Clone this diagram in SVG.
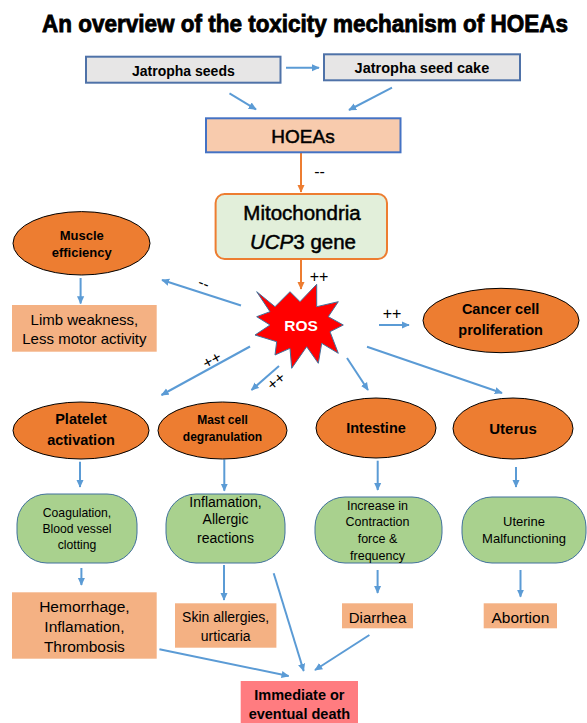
<svg xmlns="http://www.w3.org/2000/svg" width="587" height="723" viewBox="0 0 587 723">
<defs>
<style>
.t{font-family:"Liberation Sans",Arial,sans-serif;fill:#000;text-anchor:middle}
.b{font-weight:bold}
.gray{fill:#e7e6e6;stroke:#4f72a8;stroke-width:2}
.ell{fill:#ed7d31;stroke:#000;stroke-width:1}
.grn{fill:#a9d18e;stroke:#41719c;stroke-width:1}
.org{fill:#f4b183}
.con{stroke:#5b9bd5;stroke-width:2;fill:none;marker-end:url(#ab)}
.oc{stroke:#ed7d31;stroke-width:2;fill:none;marker-end:url(#ao)}
.lbl{font-family:"Liberation Sans",Arial,sans-serif;font-size:16px;fill:#000;text-anchor:middle}
</style>
<marker id="ab" viewBox="0 0 10 10" refX="9" refY="5" markerWidth="8" markerHeight="8" markerUnits="userSpaceOnUse" orient="auto"><path d="M0,0.5 L10,5 L0,9.5 z" fill="#5b9bd5"/></marker>
<marker id="ao" viewBox="0 0 10 10" refX="9" refY="5" markerWidth="8" markerHeight="8" markerUnits="userSpaceOnUse" orient="auto"><path d="M0,0.5 L10,5 L0,9.5 z" fill="#ed7d31"/></marker>
</defs>
<rect width="587" height="723" fill="#fff"/>
<text class="t b" x="305" y="31.5" font-size="23" stroke="#000" stroke-width="0.8" textLength="526" lengthAdjust="spacingAndGlyphs">An overview of the toxicity mechanism of HOEAs</text>

<g id="connectors">
<line class="con" x1="286" y1="67.7" x2="319" y2="67.7"/>
<line class="con" x1="229.5" y1="93.3" x2="256" y2="109.3"/>
<line class="con" x1="392" y1="87.7" x2="349" y2="110"/>
<line class="oc" x1="301" y1="153" x2="301" y2="192"/>
<line class="oc" x1="301" y1="260" x2="301" y2="289"/>
<line class="con" x1="241" y1="305.5" x2="162" y2="280"/>
<line class="con" x1="80.6" y1="278" x2="80.6" y2="303.5"/>
<line class="con" x1="379" y1="325" x2="409" y2="325"/>
<line class="con" x1="250" y1="346.5" x2="161.5" y2="395"/>
<line class="con" x1="279" y1="366" x2="251.5" y2="390"/>
<line class="con" x1="347" y1="358" x2="368" y2="390"/>
<line class="con" x1="367" y1="346.7" x2="502" y2="393"/>
<line class="con" x1="80" y1="461.7" x2="80" y2="487"/>
<line class="con" x1="224.3" y1="459.5" x2="224.3" y2="490.7"/>
<line class="con" x1="377.7" y1="460.7" x2="377.7" y2="490"/>
<line class="con" x1="516" y1="467" x2="516" y2="487"/>
<line class="con" x1="81.4" y1="568" x2="81.4" y2="585"/>
<line class="con" x1="224" y1="565" x2="224" y2="600"/>
<line class="con" x1="377.6" y1="570" x2="377.6" y2="593"/>
<line class="con" x1="520.5" y1="570" x2="520.5" y2="596.7"/>
<line class="con" x1="159.4" y1="649.3" x2="288.7" y2="676"/>
<line class="con" x1="273.7" y1="573.3" x2="303.7" y2="671"/>
<line class="con" x1="369.4" y1="635" x2="315" y2="670"/>
<text class="lbl" x="319.5" y="177">--</text>
<text class="lbl" x="319" y="282">++</text>
<text class="lbl" x="392" y="319">++</text>
<text class="lbl" x="204" y="288.5" transform="rotate(20 204 283)">--</text>
<text class="lbl" x="212" y="365.5" transform="rotate(-28 212 360)">++</text>
<text class="lbl" x="276" y="386.5" transform="rotate(-40 276 381)">++</text>
</g>

<g id="jatropha-seeds">
<rect class="gray" x="86" y="56.7" width="194.5" height="26"/>
<text class="t b" x="183.4" y="76" font-size="14">Jatropha seeds</text>
</g>
<g id="jatropha-seed-cake">
<rect class="gray" x="324" y="54.3" width="196" height="26"/>
<text class="t b" x="421.9" y="73" font-size="14.5">Jatropha seed cake</text>
</g>
<g id="hoeas">
<rect x="206" y="118.3" width="194.5" height="34" fill="#f8cbad" stroke="#4472c4" stroke-width="2"/>
<text class="t" x="303" y="143" font-size="19" stroke="#000" stroke-width="0.5">HOEAs</text>
</g>
<g id="mitochondria">
<rect x="215.6" y="194" width="171.4" height="65" rx="9" fill="#e2efda" stroke="#ed7d31" stroke-width="2"/>
<text class="t" x="302" y="220" font-size="20.5" stroke="#000" stroke-width="0.5">Mitochondria</text>
<text class="t" x="303" y="249" font-size="20.5" stroke="#000" stroke-width="0.5"><tspan font-style="italic">UCP</tspan>3 gene</text>
</g>
<g id="ros">
<polygon points="256.7,291.7 275,306.7 290,291.7 300,301.7 316.7,284.3 316.7,306.7 338.3,301.7 328.3,316.7 343.3,325 330,331.7 338.3,353.3 321.7,343.3 318.3,363.3 306.7,346.7 291.7,368.3 290,348.3 275,355 276.7,341.7 255,335 270,325 256.7,316.7 270,311.7" fill="#ff0000" stroke="#41719c" stroke-width="1"/>
<text class="t b" x="301" y="330.5" font-size="15.5" style="fill:#fff">ROS</text>
</g>
<g id="muscle-efficiency">
<ellipse class="ell" cx="81.5" cy="243.3" rx="68.5" ry="31.7"/>
<text class="t b" x="81.7" y="239.5" font-size="13">Muscle</text>
<text class="t b" x="81.7" y="257.2" font-size="13">efficiency</text>
</g>
<g id="limb-weakness">
<rect class="org" x="12" y="305" width="144.7" height="46.7"/>
<text class="t" x="84.4" y="325.3" font-size="15">Limb weakness,</text>
<text class="t" x="84.4" y="344.3" font-size="15">Less motor activity</text>
</g>
<g id="cancer">
<ellipse class="ell" cx="501" cy="320.5" rx="78" ry="32.2"/>
<text class="t b" x="500.6" y="313.5" font-size="14.5">Cancer cell</text>
<text class="t b" x="500.6" y="335.2" font-size="14.5">proliferation</text>
</g>
<g id="platelet">
<ellipse class="ell" cx="81" cy="430.5" rx="68" ry="28.5"/>
<text class="t b" x="81" y="424.3" font-size="14.5">Platelet</text>
<text class="t b" x="81" y="445.3" font-size="14.5">activation</text>
</g>
<g id="mast-cell">
<ellipse class="ell" cx="222.5" cy="430.5" rx="64.5" ry="28.5"/>
<text class="t b" x="222.5" y="424.3" font-size="12">Mast cell</text>
<text class="t b" x="222.5" y="441" font-size="12">degranulation</text>
</g>
<g id="intestine">
<ellipse class="ell" cx="376" cy="428" rx="60" ry="30"/>
<text class="t b" x="376" y="433.2" font-size="14.5">Intestine</text>
</g>
<g id="uterus">
<ellipse class="ell" cx="513" cy="428.5" rx="60" ry="30.5"/>
<text class="t b" x="513" y="434" font-size="15">Uterus</text>
</g>
<g id="coagulation">
<rect class="grn" x="17" y="494" width="120" height="69" rx="30"/>
<text class="t" x="77" y="517.3" font-size="12.2">Coagulation,</text>
<text class="t" x="77" y="533.3" font-size="12.2">Blood vessel</text>
<text class="t" x="77" y="549.3" font-size="12.2">clotting</text>
</g>
<g id="inflamation">
<rect class="grn" x="166" y="494" width="119" height="69" rx="30"/>
<text class="t" x="225.5" y="506.7" font-size="14">Inflamation,</text>
<text class="t" x="225.5" y="524" font-size="14">Allergic</text>
<text class="t" x="225.5" y="543" font-size="14">reactions</text>
</g>
<g id="contraction">
<rect class="grn" x="315" y="497" width="127" height="66" rx="30"/>
<text class="t" x="377.5" y="509.5" font-size="12.5">Increase in</text>
<text class="t" x="377.5" y="526.2" font-size="12.5">Contraction</text>
<text class="t" x="377.5" y="542.5" font-size="12.5">force &amp;</text>
<text class="t" x="377.5" y="559.5" font-size="12.5">frequency</text>
</g>
<g id="uterine">
<rect class="grn" x="462" y="497" width="124" height="66" rx="30"/>
<text class="t" x="524" y="526.3" font-size="13">Uterine</text>
<text class="t" x="524" y="542.6" font-size="13">Malfunctioning</text>
</g>
<g id="hemorrhage">
<rect class="org" x="12" y="592.3" width="144.7" height="66.4"/>
<text class="t" x="84.4" y="612.2" font-size="15.5">Hemorrhage,</text>
<text class="t" x="84.4" y="632.2" font-size="15.5">Inflamation,</text>
<text class="t" x="84.4" y="651.5" font-size="15.5">Thrombosis</text>
</g>
<g id="skin">
<rect class="org" x="175" y="603.3" width="101.4" height="44.4"/>
<text class="t" x="225.7" y="622.3" font-size="14">Skin allergies,</text>
<text class="t" x="225.7" y="641" font-size="14">urticaria</text>
</g>
<g id="diarrhea">
<rect class="org" x="342" y="603.3" width="71" height="25"/>
<text class="t" x="377.5" y="622.5" font-size="15">Diarrhea</text>
</g>
<g id="abortion">
<rect class="org" x="483.7" y="603.3" width="73.3" height="25"/>
<text class="t" x="520.4" y="622.5" font-size="15.5">Abortion</text>
</g>
<g id="death">
<rect x="240.7" y="681" width="117.3" height="42" fill="#ff7c80"/>
<text class="t b" x="299.4" y="700" font-size="14.5">Immediate or</text>
<text class="t b" x="299.4" y="719" font-size="14.5">eventual death</text>
</g>
</svg>
